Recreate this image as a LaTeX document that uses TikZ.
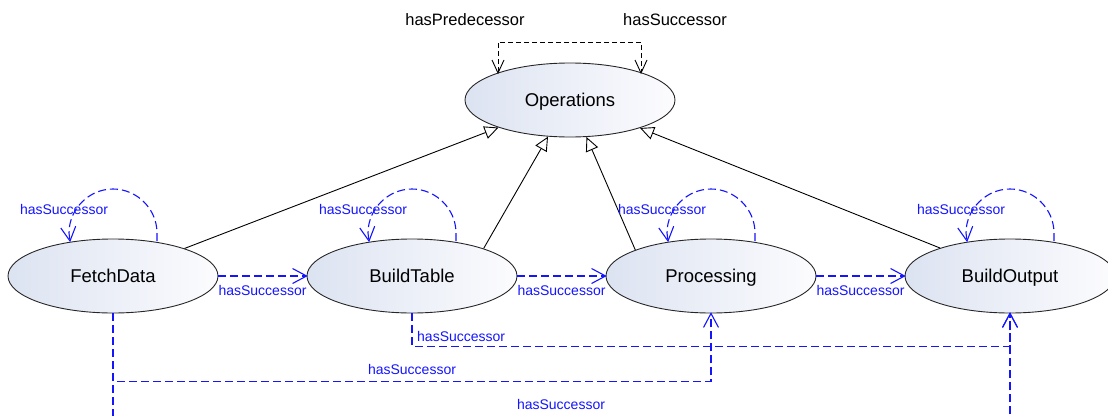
\documentclass[tikz,border=0pt]{standalone}
\usepackage{fontspec}
\setmainfont{Liberation Sans}
\usetikzlibrary{arrows.meta,shapes.geometric,calc}
\definecolor{ublue}{RGB}{20,20,255}
\definecolor{nodeL}{RGB}{220,227,241}
\definecolor{nodeR}{RGB}{252,252,254}

\pgfdeclarearrow{
  name = OpenV,
  parameters = {\the\pgfarrowlength,\the\pgfarrowwidth},
  setup code = {
    \pgfarrowssettipend{0pt}
    \pgfarrowssetlineend{-1pt}
    \pgfarrowssetbackend{-\pgfarrowlength}
    \pgfarrowshullpoint{0pt}{0pt}
    \pgfarrowsupperhullpoint{-\pgfarrowlength}{.5\pgfarrowwidth}
    \pgfarrowssavethe\pgfarrowlength
    \pgfarrowssavethe\pgfarrowwidth
  },
  drawing code = {
    \pgfsetdash{}{+0pt}
    \pgfpathmoveto{\pgfqpoint{-\pgfarrowlength}{.5\pgfarrowwidth}}
    \pgfpathlineto{\pgfqpoint{0pt}{0pt}}
    \pgfpathlineto{\pgfqpoint{-\pgfarrowlength}{-.5\pgfarrowwidth}}
    \pgfusepathqstroke
  },
  defaults = {length=14pt, width=14pt}
}

\begin{document}
\begin{tikzpicture}[x=1pt,y=-1pt,
  cls/.style={ellipse, draw=black!85, line width=0.9pt, minimum width=210pt, minimum height=74pt,
    inner sep=0pt, text height=13.2pt, text depth=0pt,
    left color=nodeL, right color=nodeR, font=\fontsize{18.5}{22}\selectfont},
  lbl/.style={text=ublue, inner sep=0pt, font=\fontsize{14}{16}\selectfont},
  toplbl/.style={text=black, inner sep=0pt, font=\fontsize{16.5}{19}\selectfont},
  succ/.style={draw=ublue, line width=1.1pt, dash pattern=on 8pt off 4pt,
    -{OpenV[length=14pt,width=15pt]}},
  gen/.style={draw=black, line width=0.9pt, -{Triangle[length=14pt,width=13pt,fill=white]}},
  toploop/.style={draw=black, line width=0.9pt, dash pattern=on 5pt off 3pt,
    {OpenV[length=13pt,width=12pt]}-{OpenV[length=13pt,width=12pt]}}
]
\useasboundingbox (0,0) rectangle (1108,415);
\clip (0,0) rectangle (1108,415);

\node[cls] (ops) at (570,100) {Operations};
\node[cls] (fd) at (113,276) {FetchData};
\node[cls] (bt) at (412,276) {BuildTable};
\node[cls] (pr) at (711,276) {Processing};
\node[cls] (bo) at (1010,276) {BuildOutput};

% generalization
\draw[gen] (fd) -- (ops);
\draw[gen] (bt.21) -- (ops.239);
\draw[gen] (pr.161) -- (ops.294);
\draw[gen] (bo) -- (ops);

% top self relations
\draw[toploop] ([shift={(-72,-27)}]ops.center) -- ++(0,-31) -| ([shift={(71,-27)}]ops.center);
\node[toplbl] at ([shift={(-105,-80)}]ops.center) {hasPredecessor};
\node[toplbl] at ([shift={(105,-80)}]ops.center) {hasSuccessor};

% self loops
\foreach \n in {fd,bt,pr,bo}{
  \draw[succ] ([shift={(44,-35)}]\n.center) -- ++(0,-8)
     .. controls +(0,-24) and +(24,0) .. ++(-44,-44)
     .. controls +(-24,0) and +(0,-24) .. ++(-44,44) -- ++(1,8);
  \node[lbl] at ([shift={(-49,-67)}]\n.center) {hasSuccessor};
}

% neighbours
\draw[succ] (fd) -- node[lbl, yshift=-14pt] {hasSuccessor} (bt);
\draw[succ] (bt) -- node[lbl, yshift=-14pt] {hasSuccessor} (pr);
\draw[succ] (pr) -- node[lbl, yshift=-14pt] {hasSuccessor} (bo);

% long connectors
\draw[succ] (bt.south) -- ++(0,33) coordinate (k1) -| (bo.south);
\node[lbl, anchor=west] at ([shift={(5,-10)}]k1) {hasSuccessor};
\draw[succ] (fd.south) -- ++(0,68) coordinate (k2) -| (pr.south);
\node[lbl] at ([shift={(299,-12)}]k2) {hasSuccessor};
\draw[succ] (fd.south) -- ++(0,130) coordinate (k3) -| (bo.south);
\node[lbl] at ([shift={(448,-39)}]k3) {hasSuccessor};
\end{tikzpicture}
\end{document}
